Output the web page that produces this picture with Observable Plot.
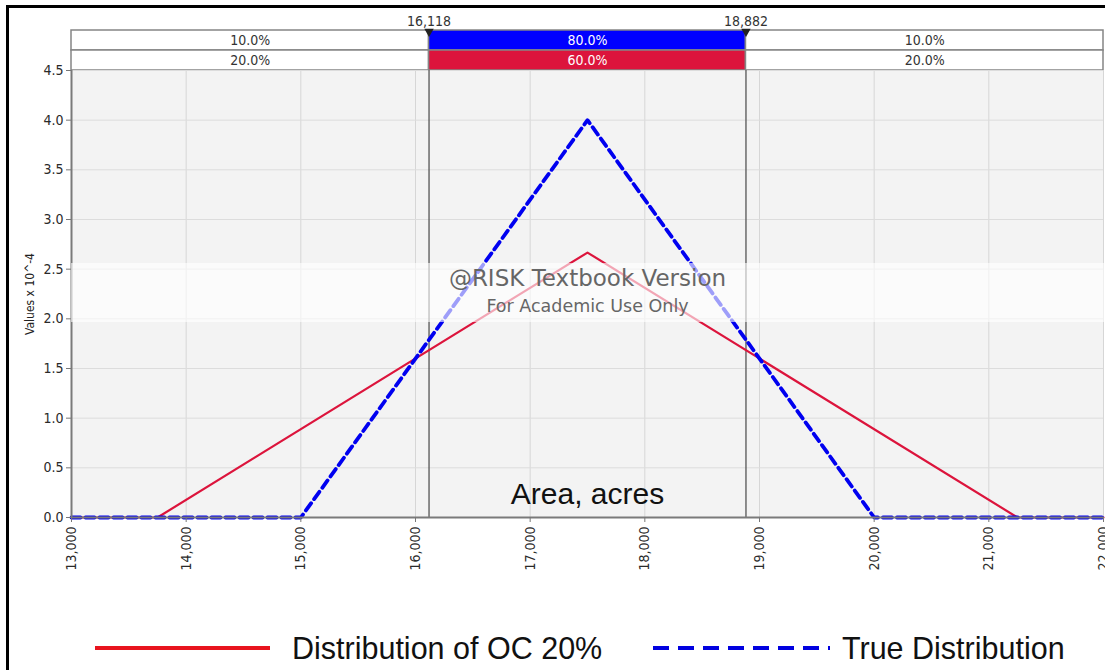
<!DOCTYPE html>
<html>
<head>
<meta charset="utf-8">
<script src="https://cdn.jsdelivr.net/npm/d3@7"></script>
<script src="https://cdn.jsdelivr.net/npm/@observablehq/plot@0.6"></script>
<style>
  html, body { margin: 0; padding: 0; background: #fff; }
  #wrap { position: relative; width: 1105px; height: 670px; overflow: hidden; background: #fff; font-family: "DejaVu Sans Condensed", "DejaVu Sans", sans-serif; font-stretch: condensed; }
  #wrap svg { position: absolute; left: 0; }
  #frameline { position: absolute; left: 6px; top: 5px; right: -10px; bottom: -10px; border-left: 3px solid #000; border-top: 3px solid #000; pointer-events: none; }
  #watermark { position: absolute; left: 71px; top: 263px; width: 1033px; height: 59px; background: rgba(255,255,255,0.62); text-align: center; color: #666; font-family: "DejaVu Sans", sans-serif; font-stretch: normal; }
  #wm1 { position: absolute; left: 0; right: 0; top: 2px; font-size: 23px; }
  #wm2 { position: absolute; left: 0; right: 0; top: 33px; font-size: 17.5px; }
  .leg { position: absolute; top: 628px; font-family: "Liberation Sans", Arial, sans-serif; font-stretch: normal; font-size: 30.5px; color: #111; line-height: 40px; }
</style>
</head>
<body>
<div id="wrap">
  <div id="band"></div>
  <div id="main"></div>
  <div id="watermark"><div id="wm1">@RISK Textbook Version</div><div id="wm2">For Academic Use Only</div></div>
  <div id="legend"></div>
  <div id="frameline"></div>
</div>
<script>
// ---- data ----
const ocX = [13000, 13750, 17500, 21250, 22000];
const ocY = [0, 0, 2.667, 0, 0];
const trueX = [13000, 15000, 17500, 20000, 22000];
const trueY = [0, 0, 4.0, 0, 0];
const cutoffs = [16118, 18882];
const bandEdges = [13000, 16118, 18882, 22000];
const trueBandLabels = ["10.0%", "80.0%", "10.0%"];
const ocBandLabels = ["20.0%", "60.0%", "20.0%"];
const xTicks = [13000, 14000, 15000, 16000, 17000, 18000, 19000, 20000, 21000, 22000];
const yTicks = [0, 0.5, 1.0, 1.5, 2.0, 2.5, 3.0, 3.5, 4.0, 4.5];
const seriesNames = ["Distribution of OC 20%", "True Distribution"];

const ocData = ocX.map((x, i) => ({x, y: ocY[i]}));
const trueData = trueX.map((x, i) => ({x, y: trueY[i]}));

const RED_LINE = "#dc143c";
const BLUE_LINE = "#0000f0";
const FONT = "'DejaVu Sans Condensed', 'DejaVu Sans', sans-serif";

// ---- band (percentile bar) ----
const bandRows = [];
for (let i = 0; i < 3; i++) {
  bandRows.push({row: "true", x1: bandEdges[i], x2: bandEdges[i + 1], label: trueBandLabels[i], mid: i === 1, fill: i === 1 ? "#0000ff" : "#ffffff"});
  bandRows.push({row: "oc", x1: bandEdges[i], x2: bandEdges[i + 1], label: ocBandLabels[i], mid: i === 1, fill: i === 1 ? "#dc143c" : "#ffffff"});
}

const bandPlot = Plot.plot({
  width: 1105, height: 70,
  marginLeft: 71, marginRight: 2, marginTop: 30, marginBottom: 0,
  style: {background: "transparent", overflow: "visible", fontFamily: FONT, fontSize: "14px"},
  x: {domain: [13000, 22000], axis: null},
  y: {domain: ["true", "oc"], axis: null, padding: 0},
  marks: [
    Plot.barX(bandRows, {x1: "x1", x2: "x2", y: "row", fill: d => d.fill, stroke: "#858585", strokeWidth: 1.5}),
    Plot.text(bandRows, {x: d => (d.x1 + d.x2) / 2, y: "row", text: "label", fill: d => d.mid ? "#ffffff" : "#333333", fontSize: 14}),
    Plot.text(cutoffs, {x: d => d, frameAnchor: "top", dy: -14, text: d => d3.format(",")(d), fill: "#333", fontSize: 14}),
    Plot.dot(cutoffs, {x: d => d, frameAnchor: "top", dy: 1, symbol: "triangle", rotate: 180, r: 3.5, fill: "#222", stroke: null})
  ]
});
bandPlot.style.top = "0px";
document.getElementById("band").appendChild(bandPlot);

// ---- main chart ----
const mainPlot = Plot.plot({
  width: 1105, height: 540,
  marginLeft: 71, marginRight: 2, marginTop: 10, marginBottom: 83,
  style: {background: "transparent", overflow: "visible", fontFamily: FONT, fontSize: "14px", color: "#333"},
  x: {domain: [13000, 22000]},
  y: {domain: [0, 4.5]},
  marks: [
    Plot.frame({fill: "#f3f3f3", stroke: null}),
    Plot.gridX(xTicks, {stroke: "#d6d6d6", strokeOpacity: 1}),
    Plot.gridY(yTicks, {stroke: "#dcdcdc", strokeOpacity: 1}),
    Plot.ruleX(cutoffs, {stroke: "#555", strokeWidth: 1.3}),
    Plot.line(ocData, {x: "x", y: "y", stroke: RED_LINE, strokeWidth: 2.2}),
    Plot.line(trueData, {x: "x", y: "y", stroke: BLUE_LINE, strokeWidth: 3.8, strokeDasharray: "9,5"}),
    Plot.ruleX([13000], {stroke: "#7a7a7a", strokeWidth: 2}),
    Plot.ruleY([0], {stroke: "#7a7a7a", strokeWidth: 2}),
    Plot.axisX(xTicks, {tickFormat: d3.format(","), tickRotate: -90, tickSize: 5, tickPadding: 4, stroke: "#777", fill: "#2a2a2a", fontSize: 14, label: null}),
    Plot.axisY(yTicks, {tickFormat: d3.format(".1f"), tickSize: 5, tickPadding: 3, stroke: "#777", fill: "#2a2a2a", fontSize: 14, label: null}),
    Plot.text(["Area, acres"], {text: d => d, frameAnchor: "bottom", dy: -14, fontSize: 30, fontFamily: "Liberation Sans", fill: "#111"}),
    Plot.text(["Values x 10^-4"], {text: d => d, frameAnchor: "left", textAnchor: "middle", dx: -41, rotate: -90, fontSize: 12, fill: "#222"})
  ]
});
mainPlot.style.top = "60px";
document.getElementById("main").appendChild(mainPlot);

// ---- legend ----
const legend = document.getElementById("legend");
legend.innerHTML = `
  <svg width="1105" height="40" style="position:absolute;left:0;top:628px;">
    <line x1="95" x2="270" y1="20" y2="20" stroke="#e8141e" stroke-width="4"/>
    <line x1="653" x2="830" y1="20" y2="20" stroke="#0000e0" stroke-width="4" stroke-dasharray="16,9"/>
  </svg>
  <div class="leg" style="left:292px;">${seriesNames[0]}</div>
  <div class="leg" style="left:842px;">${seriesNames[1]}</div>
`;
</script>
</body>
</html>
